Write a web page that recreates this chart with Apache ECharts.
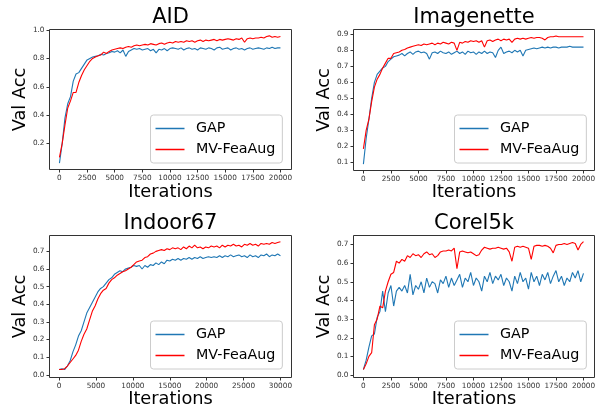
<!DOCTYPE html>
<html><head><meta charset="utf-8">
<script src="https://cdn.jsdelivr.net/npm/echarts@6/dist/echarts.min.js"></script>
<style>html,body{margin:0;padding:0;background:#fff}#c{width:600px;height:412px}</style>
</head><body><div id="c"></div>
<script>
// ---------- data ----------
const titles = ['AID', 'Imagenette', 'Indoor67', 'Corel5k'];
const seriesNames = ['GAP', 'MV-FeaAug'];
const iters20k = Array.from({length: 81}, (_, i) => i * 250);
const iters30k = Array.from({length: 81}, (_, i) => i * 375);
const xTicks20k = [0, 2500, 5000, 7500, 10000, 12500, 15000, 17500, 20000];
const xTicks30k = [0, 5000, 10000, 15000, 20000, 25000, 30000];
const yTicksAid = [0.2, 0.4, 0.6, 0.8, 1.0];
const yTicksImg = [0.1, 0.2, 0.3, 0.4, 0.5, 0.6, 0.7, 0.8, 0.9];
const yTicksInd = [0.0, 0.1, 0.2, 0.3, 0.4, 0.5, 0.6, 0.7];
const yTicksCor = [0.0, 0.1, 0.2, 0.3, 0.4, 0.5, 0.6, 0.7];

const aidGap = [0.06,0.20,0.38,0.48,0.53,0.64,0.69,0.70,0.73,0.76,
 0.79,0.80,0.81,0.815,0.82,0.83,0.825,0.835,0.84,0.85,
 0.845,0.855,0.84,0.86,0.815,0.85,0.86,0.87,0.865,0.87,
 0.86,0.865,0.87,0.855,0.865,0.84,0.865,0.86,0.87,0.855,
 0.87,0.875,0.87,0.865,0.875,0.86,0.87,0.875,0.865,0.87,
 0.86,0.875,0.87,0.865,0.875,0.87,0.86,0.875,0.88,0.865,
 0.87,0.875,0.86,0.87,0.875,0.865,0.87,0.86,0.87,0.875,
 0.865,0.87,0.875,0.87,0.865,0.875,0.87,0.88,0.87,0.875,0.875];
const aidMv = [0.10,0.20,0.33,0.45,0.50,0.56,0.56,0.63,0.68,0.72,
 0.75,0.78,0.80,0.81,0.82,0.825,0.845,0.835,0.85,0.86,
 0.865,0.87,0.875,0.87,0.88,0.885,0.88,0.89,0.895,0.89,
 0.895,0.90,0.895,0.905,0.90,0.895,0.905,0.91,0.90,0.91,
 0.915,0.91,0.92,0.915,0.92,0.915,0.925,0.92,0.925,0.915,
 0.925,0.93,0.92,0.93,0.925,0.93,0.935,0.925,0.935,0.93,
 0.935,0.94,0.935,0.93,0.94,0.935,0.945,0.915,0.94,0.945,
 0.94,0.945,0.945,0.95,0.945,0.955,0.96,0.95,0.955,0.95,0.955];

const imgGap = [0.09,0.25,0.37,0.50,0.60,0.65,0.67,0.69,0.70,0.73,
 0.745,0.76,0.765,0.77,0.78,0.765,0.78,0.79,0.775,0.79,
 0.795,0.785,0.79,0.78,0.745,0.785,0.79,0.78,0.795,0.785,
 0.78,0.79,0.775,0.785,0.795,0.78,0.79,0.775,0.795,0.785,
 0.79,0.775,0.79,0.78,0.795,0.78,0.79,0.785,0.755,0.80,
 0.82,0.78,0.79,0.795,0.785,0.80,0.79,0.80,0.765,0.80,
 0.805,0.81,0.815,0.81,0.815,0.82,0.815,0.82,0.815,0.82,
 0.82,0.815,0.82,0.82,0.82,0.825,0.82,0.82,0.82,0.82,0.82];
const imgMv = [0.185,0.30,0.37,0.48,0.57,0.62,0.65,0.69,0.72,0.75,
 0.75,0.78,0.785,0.79,0.80,0.805,0.815,0.82,0.825,0.83,
 0.835,0.83,0.84,0.835,0.84,0.845,0.835,0.845,0.84,0.85,
 0.845,0.84,0.85,0.845,0.80,0.85,0.845,0.855,0.85,0.86,
 0.855,0.86,0.85,0.86,0.82,0.86,0.865,0.855,0.865,0.87,
 0.86,0.87,0.865,0.87,0.85,0.87,0.875,0.87,0.875,0.87,
 0.875,0.88,0.875,0.88,0.88,0.875,0.865,0.88,0.885,0.885,
 0.89,0.885,0.885,0.885,0.885,0.885,0.885,0.885,0.885,0.885,0.885];

const indGap = [0.03,0.035,0.03,0.05,0.08,0.13,0.17,0.22,0.25,0.30,
 0.35,0.38,0.41,0.44,0.47,0.49,0.50,0.52,0.54,0.55,
 0.57,0.58,0.59,0.585,0.60,0.605,0.61,0.62,0.615,0.62,
 0.60,0.62,0.61,0.625,0.62,0.635,0.625,0.64,0.63,0.65,
 0.645,0.655,0.65,0.66,0.65,0.66,0.655,0.665,0.655,0.665,
 0.66,0.67,0.66,0.665,0.67,0.665,0.67,0.665,0.675,0.665,
 0.675,0.67,0.68,0.67,0.675,0.68,0.67,0.675,0.665,0.68,
 0.67,0.675,0.665,0.68,0.675,0.685,0.67,0.68,0.675,0.685,0.675];
const indMv = [0.03,0.03,0.035,0.05,0.07,0.09,0.11,0.14,0.19,0.23,
 0.26,0.31,0.36,0.39,0.43,0.46,0.48,0.49,0.52,0.54,
 0.55,0.565,0.575,0.585,0.59,0.60,0.61,0.625,0.64,0.645,
 0.65,0.665,0.67,0.685,0.69,0.70,0.705,0.71,0.705,0.715,
 0.71,0.72,0.715,0.72,0.71,0.725,0.715,0.73,0.72,0.735,
 0.72,0.725,0.715,0.725,0.72,0.73,0.725,0.73,0.72,0.735,
 0.725,0.735,0.73,0.74,0.73,0.735,0.725,0.74,0.735,0.745,
 0.735,0.74,0.73,0.745,0.74,0.745,0.74,0.75,0.745,0.75,0.755];

const corGap = [0.03,0.08,0.15,0.21,0.22,0.31,0.34,0.45,0.34,0.44,
 0.48,0.37,0.45,0.47,0.45,0.48,0.44,0.54,0.43,0.48,
 0.46,0.50,0.44,0.52,0.47,0.50,0.49,0.44,0.51,0.49,
 0.53,0.47,0.52,0.48,0.51,0.54,0.47,0.52,0.50,0.55,
 0.48,0.52,0.50,0.45,0.53,0.50,0.55,0.49,0.53,0.51,
 0.54,0.48,0.52,0.50,0.45,0.53,0.49,0.55,0.50,0.52,
 0.46,0.55,0.50,0.53,0.48,0.54,0.51,0.55,0.49,0.53,
 0.56,0.50,0.53,0.48,0.52,0.50,0.55,0.52,0.56,0.50,0.545];
const corMv = [0.03,0.06,0.10,0.12,0.27,0.30,0.37,0.36,0.45,0.50,
 0.54,0.55,0.61,0.60,0.62,0.61,0.64,0.63,0.65,0.64,
 0.645,0.63,0.65,0.66,0.645,0.65,0.63,0.64,0.66,0.665,
 0.665,0.67,0.665,0.68,0.57,0.66,0.665,0.66,0.655,0.66,
 0.65,0.64,0.645,0.67,0.685,0.68,0.675,0.68,0.68,0.685,
 0.68,0.675,0.68,0.66,0.61,0.685,0.69,0.685,0.69,0.685,
 0.68,0.62,0.69,0.695,0.695,0.69,0.695,0.69,0.68,0.655,
 0.695,0.70,0.70,0.705,0.70,0.705,0.71,0.705,0.67,0.70,0.715];

// ---------- layout ----------
const FONT = 'DejaVu Sans';
const panels = [
  {title: titles[0], box: {left: 49.5, top: 29.5, width: 242, height: 140}, titleTop: 7,
   x: iters20k, xmin: -900, xmax: 21000, xt: xTicks20k, ymin: 0.015, ymax: 1.005, yt: yTicksAid,
   gap: aidGap, mv: aidMv, legend: {left: 150.5, top: 115}, xNameGap: 14},
  {title: titles[1], box: {left: 353.5, top: 29.5, width: 241, height: 141}, titleTop: 7,
   x: iters20k, xmin: -900, xmax: 21000, xt: xTicks20k, ymin: 0.05, ymax: 0.93, yt: yTicksImg,
   gap: imgGap, mv: imgMv, legend: {left: 454.5, top: 115}, xNameGap: 13},
  {title: titles[2], box: {left: 49.5, top: 235.5, width: 242, height: 142}, titleTop: 213,
   x: iters30k, xmin: -1300, xmax: 31500, xt: xTicks30k, ymin: -0.015, ymax: 0.79, yt: yTicksInd,
   gap: indGap, mv: indMv, legend: {left: 150.5, top: 321}, xNameGap: 13},
  {title: titles[3], box: {left: 353.5, top: 235.5, width: 241, height: 142}, titleTop: 213,
   x: iters20k, xmin: -900, xmax: 21000, xt: xTicks20k, ymin: -0.013, ymax: 0.748, yt: yTicksCor,
   gap: corGap, mv: corMv, legend: {left: 454.5, top: 321}, xNameGap: 13}
];

const option = {
  animation: false,
  backgroundColor: '#fff',
  title: [], grid: [], xAxis: [], yAxis: [], series: [], legend: []
};
const tickLabel = {fontFamily: FONT, fontSize: 7.3, color: '#333'};
panels.forEach((p, i) => {
  option.title.push({
    text: p.title, left: p.box.left + p.box.width / 2, top: p.titleTop, textAlign: 'center', padding: 0,
    textStyle: {fontFamily: FONT, fontSize: 21, fontWeight: 'normal', color: '#000'}
  });
  option.grid.push(Object.assign({show: true, borderColor: '#333', borderWidth: 1, backgroundColor: 'transparent'}, p.box));
  option.xAxis.push({
    type: 'value', gridIndex: i, min: p.xmin, max: p.xmax, position: 'bottom',
    name: 'Iterations', nameLocation: 'middle', nameGap: p.xNameGap,
    nameTextStyle: {fontFamily: FONT, fontSize: 17.8, color: '#000'},
    axisLine: {show: false, onZero: false}, splitLine: {show: false},
    axisTick: {show: true, inside: false, length: 3, lineStyle: {color: '#333'}, customValues: p.xt},
    axisLabel: Object.assign({margin: 5, customValues: p.xt, formatter: v => String(v)}, tickLabel)
  });
  option.yAxis.push({
    type: 'value', gridIndex: i, min: p.ymin, max: p.ymax, position: 'left',
    name: 'Val Acc', nameLocation: 'middle', nameGap: 20, nameRotate: 90,
    nameTextStyle: {fontFamily: FONT, fontSize: 17.8, color: '#000'},
    axisLine: {show: false, onZero: false}, splitLine: {show: false},
    axisTick: {show: true, inside: false, length: 3, lineStyle: {color: '#333'}, customValues: p.yt},
    axisLabel: Object.assign({margin: 5, customValues: p.yt, formatter: v => v.toFixed(1)}, tickLabel)
  });
  [[seriesNames[0], p.gap, '#1f77b4'], [seriesNames[1], p.mv, '#ff0000']].forEach(([name, vals, col]) => {
    option.series.push({
      type: 'line', name, xAxisIndex: i, yAxisIndex: i, showSymbol: false, symbol: 'none',
      data: p.x.map((x, k) => [x, vals[k]]),
      lineStyle: {color: col, width: 1.1}, itemStyle: {color: col}, silent: true
    });
  });
  option.legend.push({
    orient: 'vertical', left: p.legend.left, top: p.legend.top, data: seriesNames,
    icon: 'rect', itemWidth: 29, itemHeight: 1.5, itemGap: 0,
    textStyle: {fontFamily: FONT, fontSize: 14.3, color: '#000', lineHeight: 21, padding: [0, 0, 0, 6.5]},
    backgroundColor: 'rgba(255,255,255,0.85)', borderColor: '#ccc', borderWidth: 1, borderRadius: 3,
    padding: [3, 7, 3, 5], selectedMode: false
  });
});

const chart = echarts.init(document.getElementById('c'), null, {renderer: 'canvas'});
chart.setOption(option);
</script></body></html>
